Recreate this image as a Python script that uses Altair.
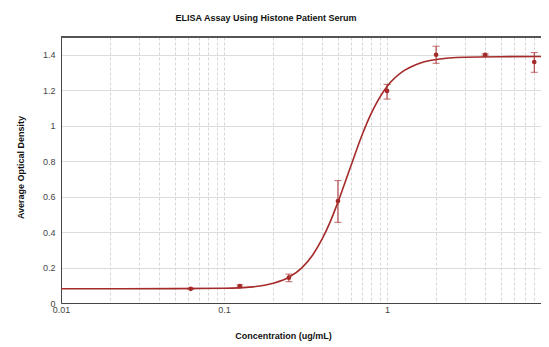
import altair as alt
import pandas as pd

# measured points
conc = [0.0625, 0.125, 0.25, 0.5, 1, 2, 4, 8]
od_mean = [0.080, 0.095, 0.143, 0.575, 1.196, 1.400, 1.399, 1.359]
od_low = [0.077, 0.088, 0.120, 0.455, 1.150, 1.352, 1.393, 1.301]
od_high = [0.083, 0.102, 0.163, 0.690, 1.233, 1.448, 1.405, 1.412]

# fitted curve
curve_x = [0.01, 0.05, 0.1, 0.15, 0.2, 0.25, 0.3, 0.35, 0.4, 0.45, 0.5, 0.6,
           0.7, 0.8, 1.0, 1.25, 1.5, 2, 3, 5, 10]
curve_y = [0.080, 0.081, 0.083, 0.091, 0.111, 0.145, 0.198, 0.271, 0.361, 0.462,
           0.569, 0.773, 0.943, 1.069, 1.221, 1.306, 1.344, 1.373, 1.386, 1.389, 1.390]

x_ticks = [0.01, 0.02, 0.03, 0.04, 0.05, 0.06, 0.07, 0.08, 0.09,
           0.1, 0.2, 0.3, 0.4, 0.5, 0.6, 0.7, 0.8, 0.9,
           1, 2, 3, 4, 5, 6, 7, 8]
y_ticks = [0, 0.2, 0.4, 0.6, 0.8, 1.0, 1.2, 1.4]
x_max = 8.8  # right edge of the visible window (axis runs on to 10, cut off)

pts = pd.DataFrame({"x": conc, "y": od_mean, "lo": od_low, "hi": od_high})
crv = pd.DataFrame({"x": curve_x, "y": curve_y})

RED = "#a52a2a"
FONT = "Liberation Sans"

xscale = alt.Scale(type="log", domain=[0.01, x_max], nice=False)
yscale = alt.Scale(domain=[0, 1.5], nice=False, zero=True)

xaxis = alt.Axis(
    values=x_ticks, format="~g",
    labelExpr="indexof(['0.01','0.1','1','10'], datum.label) >= 0 ? datum.label : ''",
    title="Concentration (ug/mL)", titleX=222, titleY=32, titleBaseline="middle",
    titleAlign="center", ticks=False, gridDash=[3, 2], gridColor="#d6d6d6",
    domainColor="#444", labelColor="#444", labelFontSize=9, labelFont=FONT,
    titleFont=FONT, titleFontSize=9, titleFontWeight="bold", titleColor="#111",
    labelPadding=2, labelOverlap=False, labelFlush=False,
)
yaxis = alt.Axis(
    values=y_ticks, format="~g", title="Average Optical Density",
    titleX=-41, titleY=130, titleAngle=-90, titleBaseline="middle", titleAlign="center",
    ticks=False, grid=True, gridColor="#dcdcdc", domainColor="#444", labelColor="#444",
    labelFontSize=9, labelFont=FONT, titleFont=FONT, titleFontSize=9,
    titleFontWeight="bold", titleColor="#111", labelPadding=6, labelOverlap=False,
)

X = lambda f: alt.X(f, scale=xscale, axis=xaxis)
Y = lambda f: alt.Y(f, scale=yscale, axis=yaxis)

line = alt.Chart(crv).mark_line(color=RED, strokeWidth=1.6, interpolate="monotone", clip=True).encode(
    x=X("x:Q"), y=Y("y:Q"),
)
rules = alt.Chart(pts).mark_rule(color=RED, strokeWidth=1).encode(
    x=X("x:Q"), y=Y("lo:Q"), y2="hi:Q"
)
cap_lo = alt.Chart(pts).mark_tick(color=RED, thickness=1, size=7, orient="horizontal").encode(
    x=X("x:Q"), y=Y("lo:Q")
)
cap_hi = alt.Chart(pts).mark_tick(color=RED, thickness=1, size=7, orient="horizontal").encode(
    x=X("x:Q"), y=Y("hi:Q")
)
dots = alt.Chart(pts).mark_circle(color=RED, size=22, opacity=1).encode(
    x=X("x:Q"), y=Y("y:Q")
)
top_border = alt.Chart(pts).mark_rule(color="#555", strokeWidth=1).encode(
    x=alt.value(0), x2=alt.value(480), y=alt.value(0)
)

chart = alt.layer(line, rules, cap_lo, cap_hi, dots, top_border).properties(
    width=480, height=266,
    title=alt.TitleParams(
        "ELISA Assay Using Histone Patient Serum", font=FONT, fontSize=9,
        fontWeight="bold", color="#111", anchor="middle", dx=-35, offset=14,
    ),
    autosize=alt.AutoSizeParams(type="none"),
    padding={"left": 53, "top": 29, "right": 0, "bottom": 40},
).configure_view(strokeWidth=0)

chart.save("out.html", embed_options={"renderer": "svg", "actions": False})
